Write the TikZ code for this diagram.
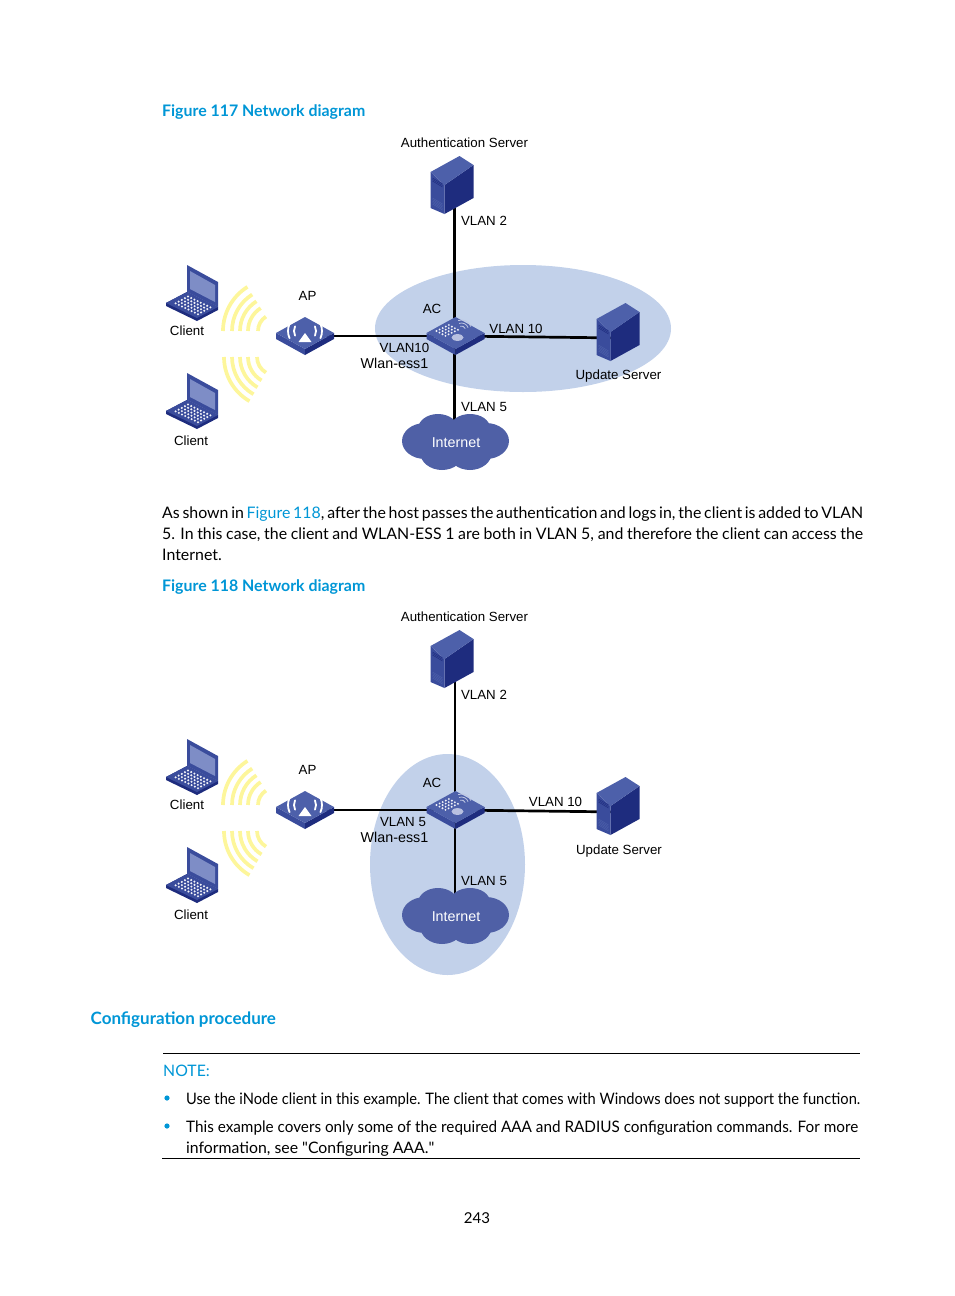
\documentclass[tikz,border=0pt]{standalone}
\usepackage{fontspec}
\setmainfont{Lato}
\newfontfamily\labelfont{Liberation Sans}
\newfontfamily\quotefont{Lato}
\definecolor{hpblue}{RGB}{0, 150, 214}
\definecolor{zoneblue}{RGB}{194, 209, 234}
\definecolor{devtop}{RGB}{77, 96, 170}
\definecolor{devleft}{RGB}{58, 76, 156}
\definecolor{devdark}{RGB}{30, 44, 126}
\definecolor{screenblue}{RGB}{126, 141, 198}
\definecolor{cloudblue}{RGB}{79, 96, 166}
\definecolor{waveyellow}{RGB}{253, 246, 155}

\tikzset{
  spot/.style={inner sep=0pt,minimum size=0pt},
  netlabel/.style={inner sep=0pt,text height=10pt,text depth=0pt,font=\labelfont\fontsize{13.3}{14}\selectfont},
  widelabel/.style={netlabel,font=\labelfont\fontsize{14.3}{15}\selectfont},
  bodyline/.style={inner sep=0pt,anchor=west,text height=12pt,text depth=3pt,font=\fontsize{15.9}{17}\selectfont},
  noteline/.style={bodyline,font=\fontsize{15.8}{17}\selectfont},
  headline/.style={bodyline,text=hpblue,font=\bfseries\fontsize{15.9}{17}\selectfont},
  link/.style={line width=2.7pt,black},
  thinlink/.style={line width=2pt,black},
  wave/.style={line width=3.7pt,waveyellow},
  rulerline/.style={line width=0.9pt,black},
  pics/laptop/.style={code={
    \fill[devdark] (-21,38) -- (0,27) -- (31,42) -- (31,45) -- (10,56) -- (-21,41) -- cycle;
    \fill[devleft] (-21,38) -- (0,27) -- (31,42) -- (10,53) -- cycle;
    \fill[devleft] (0,0) -- (31,17) -- (31,42) -- (0,27) -- cycle;
    \fill[screenblue] (3,6) -- (28,20) -- (28,37) -- (3,24) -- cycle;
    \foreach \i in {0,...,7}{
      \foreach \j in {0,...,4}{
        \fill[white!92!devtop] ({1+\i*3.2-\j*3.1},{31.5+\i*1.55+\j*1.7}) circle (1.15pt);
      }
    }
  }},
  pics/serverbox/.style={code={
    \fill[devdark] (-10,0) -- (19,-20) -- (19,13) -- (-10,29) -- cycle;
    \fill[devleft] (-24,-13) -- (-10,0) -- (-10,29) -- (-24,23) -- cycle;
    \fill[devtop] (-24,-13) -- (5,-29) -- (19,-20) -- (-10,0) -- cycle;
    \foreach \i in {0,...,2}{
      \draw[devdark,line width=0.5pt] (-22,{-7+\i*1.5}) -- (-12,{-1+\i*1.5});
    }
    \foreach \i in {0,...,4}{
      \draw[devtop,line width=0.5pt] (-22,{13+\i*1.5}) -- (-12,{19+\i*1.5});
    }
  }},
  pics/flatbox/.style={code={
    \fill[devleft] (-29,-3) -- (0,13) -- (0,19) -- (-29,3) -- cycle;
    \fill[devdark] (29,-3) -- (0,13) -- (0,19) -- (29,3) -- cycle;
    \fill[devtop] (-29,-3) -- (0,-19) -- (29,-3) -- (0,13) -- cycle;
  }},
  pics/apmark/.style={code={
    \fill[white] (0,-3) -- (6.5,6) -- (-6.5,6) -- cycle;
    \foreach \r in {11,17}{
      \draw[white,line width=1.8pt,line cap=round] ([shift={(0,-5)}]155:\r) arc (155:205:\r);
      \draw[white,line width=1.8pt,line cap=round] ([shift={(0,-5)}]-25:\r) arc (-25:25:\r);
    }
  }},
  pics/acmark/.style={code={
    \foreach \i in {0,...,4}{
      \foreach \j in {0,...,3}{
        \fill[white!92!devtop] ({-19+\i*3.1+\j*3},{-5+\i*(-1.5)+\j*1.6}) circle (1.05pt);
      }
    }
    \foreach \r in {4,7,10}{
      \draw[screenblue!50!white,line width=0.8pt] ([shift={(6,-6)}]-20:\r) arc (-20:-110:\r);
    }
    \fill[screenblue!55!white] (2,1.5) ellipse (6 and 3.4);
  }},
  pics/netcloud/.style={code={
    \fill[cloudblue] (-31,0) ellipse (23 and 18) (-18,-12) ellipse (20 and 15)
      (14,-13) ellipse (20 and 14) (30,0) ellipse (23 and 18)
      (-14,11) ellipse (22 and 18) (14,11) ellipse (22 and 18) (0,0) ellipse (30 and 20);
  }},
  pics/wavesup/.style={code={
    \foreach \r in {17,27,35,43,52}{
      \draw[wave] (180:\r) arc (180:238:\r);
    }
  }},
  pics/wavesdown/.style={code={
    \foreach \r in {18,27,35,43,51}{
      \draw[wave] (180:\r) arc (180:120:\r);
    }
  }},
}

% parts that both network diagrams share
\newcommand{\netparts}{
  \node[spot] (asrv) at (454.5,185) {};
  \node[spot] (usrv) at (620.5,338) {};
  \node[spot] (ac) at (454.5,336) {};
  \node[spot] (ap) at (305,336) {};
  \node[spot] (cloud) at (454.5,441) {};
}
\newcommand{\netdevices}{
  \pic at (asrv) {serverbox};
  \pic at (620.5,332) {serverbox};
  \pic at (ap) {flatbox};
  \pic at (305,336) {apmark};
  \pic at (455.5,336) {flatbox};
  \pic at (455.5,336) {acmark};
  \pic at (456,441) {netcloud};
  \pic at (187,265) {laptop};
  \pic at (187,373) {laptop};
  \pic at (275,331) {wavesup};
  \pic at (275,357) {wavesdown};
  \node[netlabel] (lbauth) at (464.5,142) {Authentication Server};
  \node[netlabel] (lbvtwo) at (484,220) {VLAN 2};
  \node[netlabel] (lbap) at (307.5,295) {AP};
  \node[netlabel] (lbac) at (432,308) {AC};
  \node[netlabel] (lbcla) at (187,330) {Client};
  \node[netlabel] (lbclb) at (191,440) {Client};
  \node[widelabel] (lbess) at (394.5,363) {Wlan-ess1};
  \node[netlabel] (lbvfive) at (484,406) {VLAN 5};
  \node[widelabel,text=white] (lbnet) at (456,442) {Internet};
}

\begin{document}
\begin{tikzpicture}[x=1pt,y=-1pt]
  \useasboundingbox (0,0) rectangle (954,1296);

  \node[headline] (figa) at (162,111.5) {Figure 117 Network diagram};

  \begin{scope}[name prefix=a-]
    \fill[zoneblue] (523,328.5) ellipse (148 and 63.5);
    \netparts
    \draw[link] (asrv) -- (ac);
    \draw[link] (ap) -- (ac);
    \draw[link] (ac) -- (usrv);
    \draw[link] (ac) -- (cloud);
    \netdevices
    \node[netlabel] (lbvten) at (516,328) {VLAN 10};
    \node[netlabel] (lbupd) at (618.5,374.5) {Update Server};
    \node[netlabel] (lbvap) at (404.5,347) {VLAN10};
  \end{scope}

  \node[bodyline] (bodya) at (162,513.5) {\makebox[701pt][s]{As shown in \textcolor{hpblue}{Figure 118}, after the host passes the authentication and logs in, the client is added to VLAN}};
  \node[bodyline] (bodyb) at (162,534.5) {\makebox[701pt][s]{5. In this case, the client and WLAN-ESS 1 are both in VLAN 5, and therefore the client can access the}};
  \node[bodyline] (bodyc) at (162,555.5) {Internet.};

  \node[headline] (figb) at (162,586.5) {Figure 118 Network diagram};

  \begin{scope}[name prefix=b-,shift={(0,474)}]
    \fill[zoneblue] (447.5,390.5) ellipse (77.5 and 110.5);
    \netparts
    \draw[thinlink] (asrv) -- (ac);
    \draw[link] (ap) -- (ac);
    \draw[link] (ac) -- (usrv);
    \draw[thinlink] (ac) -- (cloud);
    \netdevices
    \node[netlabel] (lbvten) at (555.5,327) {VLAN 10};
    \node[netlabel] (lbupd) at (619,375) {Update Server};
    \node[netlabel] (lbvap) at (403,347) {VLAN 5};
  \end{scope}

  \node[headline,font=\bfseries\fontsize{17}{19}\selectfont] (confhead) at (90.5,1019.5) {Configuration procedure};

  \node[spot] (rulea) at (163,1053.5) {};
  \node[spot] (ruleb) at (860,1053.5) {};
  \draw[rulerline] (rulea) -- (ruleb);
  \node[noteline,text=hpblue] (notehead) at (163,1072) {NOTE:};
  \foreach \y in {1098,1126}{
    \fill[hpblue] (167,\y) circle (2.6pt);
  }
  \node[noteline] (notea) at (186,1099.5) {\resizebox{674pt}{\height}{Use the iNode client in this example. The client that comes with Windows does not support the function.}};
  \node[noteline] (noteb) at (186,1127.5) {\resizebox{672pt}{\height}{This example covers only some of the required AAA and RADIUS configuration commands. For more}};
  \node[noteline] (notec) at (186,1148.5) {information, see {\quotefont "}Configuring AAA.{\quotefont "}};
  \node[spot] (rulec) at (162,1158.5) {};
  \node[spot] (ruled) at (860,1158.5) {};
  \draw[rulerline] (rulec) -- (ruled);

  \node[bodyline,anchor=center,font=\fontsize{15}{15}\selectfont] (pagenum) at (477,1218.5) {243};
\end{tikzpicture}
\end{document}
